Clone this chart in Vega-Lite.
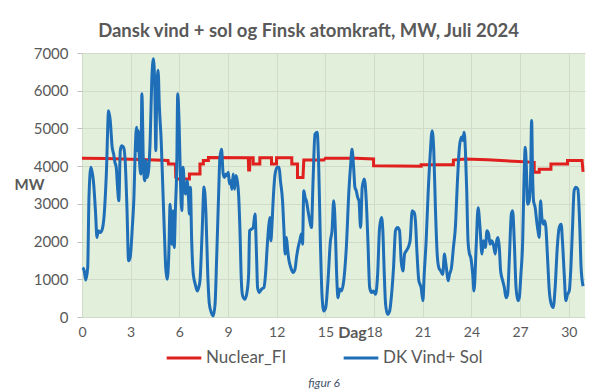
{
  "$schema": "https://vega.github.io/schema/vega-lite/v6.json",
  "autosize": "none",
  "width": 503,
  "height": 264,
  "padding": {"left": 82, "top": 53, "right": 30, "bottom": 74},
  "background": "white",
  "config": {"view": {"fill": "#E2EFDA", "stroke": null}, "font": "Lato"},
  "title": {"text": "Dansk vind + sol og Finsk atomkraft, MW, Juli 2024", "fontSize": 18.5, "fontWeight": "bold", "color": "#595959", "anchor": "middle", "frame": "group", "dx": -25, "offset": 6},
  "datasets": {
    "nuclear": [
      {"dag":0,"mw":4210},{"dag":1.5,"mw":4200},{"dag":3.0,"mw":4180},{"dag":4.5,"mw":4160},{"dag":5.3,"mw":4150},{"dag":5.33,"mw":4060},{"dag":5.76,"mw":4060},{"dag":5.78,"mw":3700},{"dag":5.85,"mw":3660},{"dag":6.62,"mw":3660},{"dag":6.62,"mw":3790},{"dag":7.27,"mw":3790},{"dag":7.27,"mw":4060},{"dag":7.48,"mw":4060},{"dag":7.48,"mw":4150},{"dag":7.79,"mw":4150},{"dag":7.79,"mw":4230},{"dag":10.25,"mw":4220},{"dag":10.27,"mw":3900},{"dag":10.33,"mw":3900},{"dag":10.35,"mw":4220},{"dag":10.55,"mw":4220},{"dag":10.55,"mw":4060},{"dag":10.96,"mw":4060},{"dag":10.96,"mw":4220},{"dag":11.68,"mw":4220},{"dag":11.68,"mw":4060},{"dag":11.99,"mw":4060},{"dag":11.99,"mw":4220},{"dag":12.93,"mw":4220},{"dag":12.93,"mw":4060},{"dag":13.28,"mw":4060},{"dag":13.28,"mw":3700},{"dag":13.62,"mw":3700},{"dag":13.67,"mw":4160},{"dag":14.9,"mw":4160},{"dag":15.0,"mw":4210},{"dag":16.9,"mw":4210},{"dag":17.97,"mw":4190},{"dag":17.97,"mw":4010},{"dag":20.9,"mw":4000},{"dag":20.9,"mw":4040},{"dag":22.89,"mw":4040},{"dag":22.89,"mw":4160},{"dag":23.6,"mw":4190},{"dag":25.0,"mw":4170},{"dag":26.6,"mw":4130},{"dag":27.87,"mw":4100},{"dag":27.87,"mw":3840},{"dag":28.18,"mw":3840},{"dag":28.18,"mw":3920},{"dag":28.9,"mw":3920},{"dag":28.9,"mw":4060},{"dag":29.92,"mw":4060},{"dag":29.92,"mw":4150},{"dag":30.82,"mw":4150},{"dag":30.88,"mw":3850}
    ],
    "vind": [
      {"dag":0.04,"mw":1310},{"dag":0.14,"mw":1220},{"dag":0.23,"mw":980},{"dag":0.35,"mw":1300},{"dag":0.43,"mw":3170},{"dag":0.55,"mw":3970},{"dag":0.72,"mw":3520},{"dag":0.84,"mw":2730},{"dag":0.92,"mw":2110},{"dag":1.0,"mw":2290},{"dag":1.13,"mw":2240},{"dag":1.25,"mw":2330},{"dag":1.37,"mw":2730},{"dag":1.5,"mw":3790},{"dag":1.64,"mw":5470},{"dag":1.74,"mw":5210},{"dag":1.86,"mw":4500},{"dag":1.95,"mw":4320},{"dag":2.03,"mw":4100},{"dag":2.11,"mw":3970},{"dag":2.19,"mw":3440},{"dag":2.27,"mw":3080},{"dag":2.36,"mw":4410},{"dag":2.44,"mw":4540},{"dag":2.56,"mw":4500},{"dag":2.66,"mw":4150},{"dag":2.77,"mw":2900},{"dag":2.87,"mw":1490},{"dag":2.97,"mw":1580},{"dag":3.1,"mw":2370},{"dag":3.2,"mw":3170},{"dag":3.28,"mw":4410},{"dag":3.36,"mw":5030},{"dag":3.42,"mw":4410},{"dag":3.48,"mw":4940},{"dag":3.54,"mw":4150},{"dag":3.63,"mw":3790},{"dag":3.69,"mw":5920},{"dag":3.79,"mw":3970},{"dag":3.87,"mw":3610},{"dag":3.93,"mw":4150},{"dag":4.02,"mw":3700},{"dag":4.12,"mw":3970},{"dag":4.2,"mw":4680},{"dag":4.3,"mw":6270},{"dag":4.4,"mw":6850},{"dag":4.49,"mw":6000},{"dag":4.55,"mw":4410},{"dag":4.61,"mw":6000},{"dag":4.69,"mw":6540},{"dag":4.77,"mw":5560},{"dag":4.88,"mw":4680},{"dag":4.98,"mw":3440},{"dag":5.08,"mw":2200},{"dag":5.16,"mw":1310},{"dag":5.25,"mw":1000},{"dag":5.35,"mw":1670},{"dag":5.43,"mw":2990},{"dag":5.51,"mw":2020},{"dag":5.55,"mw":1930},{"dag":5.61,"mw":2820},{"dag":5.68,"mw":1840},{"dag":5.76,"mw":2900},{"dag":5.84,"mw":3970},{"dag":5.9,"mw":5920},{"dag":5.98,"mw":5210},{"dag":6.07,"mw":3610},{"dag":6.15,"mw":2820},{"dag":6.23,"mw":3970},{"dag":6.31,"mw":3440},{"dag":6.39,"mw":3260},{"dag":6.48,"mw":3610},{"dag":6.56,"mw":3170},{"dag":6.62,"mw":2730},{"dag":6.68,"mw":3440},{"dag":6.76,"mw":2020},{"dag":6.86,"mw":1130},{"dag":6.98,"mw":870},{"dag":7.1,"mw":690},{"dag":7.19,"mw":780},{"dag":7.27,"mw":960},{"dag":7.4,"mw":2200},{"dag":7.52,"mw":3450},{"dag":7.64,"mw":2730},{"dag":7.75,"mw":1130},{"dag":7.85,"mw":340},{"dag":7.97,"mw":120},{"dag":8.09,"mw":30},{"dag":8.2,"mw":340},{"dag":8.3,"mw":1580},{"dag":8.42,"mw":3260},{"dag":8.5,"mw":4230},{"dag":8.6,"mw":4450},{"dag":8.7,"mw":3790},{"dag":8.78,"mw":3700},{"dag":8.87,"mw":3790},{"dag":8.96,"mw":3750},{"dag":9.02,"mw":3840},{"dag":9.08,"mw":3530},{"dag":9.16,"mw":3610},{"dag":9.24,"mw":3390},{"dag":9.32,"mw":3790},{"dag":9.4,"mw":3390},{"dag":9.49,"mw":3750},{"dag":9.57,"mw":3610},{"dag":9.65,"mw":3260},{"dag":9.73,"mw":2370},{"dag":9.82,"mw":960},{"dag":9.9,"mw":560},{"dag":10.04,"mw":470},{"dag":10.18,"mw":690},{"dag":10.27,"mw":1130},{"dag":10.33,"mw":2290},{"dag":10.45,"mw":2330},{"dag":10.55,"mw":2370},{"dag":10.66,"mw":2730},{"dag":10.76,"mw":1580},{"dag":10.82,"mw":780},{"dag":10.92,"mw":650},{"dag":11.07,"mw":740},{"dag":11.21,"mw":780},{"dag":11.31,"mw":1130},{"dag":11.41,"mw":1840},{"dag":11.5,"mw":2370},{"dag":11.58,"mw":2640},{"dag":11.64,"mw":2020},{"dag":11.7,"mw":2370},{"dag":11.78,"mw":3080},{"dag":11.9,"mw":3790},{"dag":12.03,"mw":3970},{"dag":12.15,"mw":3970},{"dag":12.23,"mw":3610},{"dag":12.36,"mw":3080},{"dag":12.44,"mw":2370},{"dag":12.52,"mw":1670},{"dag":12.6,"mw":2110},{"dag":12.68,"mw":1750},{"dag":12.76,"mw":1490},{"dag":12.87,"mw":1310},{"dag":13.01,"mw":1180},{"dag":13.13,"mw":1270},{"dag":13.22,"mw":1580},{"dag":13.32,"mw":1840},{"dag":13.42,"mw":2020},{"dag":13.52,"mw":2200},{"dag":13.59,"mw":1930},{"dag":13.67,"mw":3350},{"dag":13.75,"mw":3170},{"dag":13.83,"mw":3080},{"dag":13.93,"mw":2820},{"dag":14.04,"mw":2550},{"dag":14.14,"mw":2370},{"dag":14.24,"mw":3610},{"dag":14.36,"mw":4850},{"dag":14.49,"mw":4900},{"dag":14.59,"mw":3970},{"dag":14.69,"mw":2020},{"dag":14.79,"mw":600},{"dag":14.9,"mw":160},{"dag":15.02,"mw":250},{"dag":15.16,"mw":960},{"dag":15.31,"mw":2020},{"dag":15.41,"mw":2290},{"dag":15.51,"mw":3080},{"dag":15.61,"mw":2370},{"dag":15.68,"mw":1310},{"dag":15.78,"mw":510},{"dag":15.88,"mw":740},{"dag":15.98,"mw":690},{"dag":16.13,"mw":960},{"dag":16.29,"mw":1840},{"dag":16.45,"mw":3350},{"dag":16.56,"mw":4060},{"dag":16.64,"mw":4450},{"dag":16.74,"mw":3970},{"dag":16.82,"mw":3440},{"dag":16.9,"mw":3350},{"dag":16.99,"mw":3170},{"dag":17.07,"mw":3080},{"dag":17.17,"mw":2370},{"dag":17.27,"mw":3440},{"dag":17.4,"mw":3660},{"dag":17.52,"mw":3080},{"dag":17.62,"mw":2020},{"dag":17.73,"mw":780},{"dag":17.85,"mw":650},{"dag":17.97,"mw":690},{"dag":18.09,"mw":600},{"dag":18.22,"mw":1130},{"dag":18.34,"mw":2370},{"dag":18.46,"mw":2640},{"dag":18.54,"mw":2290},{"dag":18.63,"mw":1130},{"dag":18.71,"mw":340},{"dag":18.83,"mw":70},{"dag":18.96,"mw":160},{"dag":19.08,"mw":600},{"dag":19.2,"mw":1310},{"dag":19.32,"mw":2290},{"dag":19.45,"mw":2370},{"dag":19.57,"mw":2290},{"dag":19.67,"mw":1490},{"dag":19.78,"mw":1220},{"dag":19.88,"mw":1670},{"dag":19.98,"mw":1750},{"dag":20.1,"mw":1840},{"dag":20.22,"mw":2020},{"dag":20.35,"mw":2820},{"dag":20.47,"mw":2770},{"dag":20.55,"mw":2550},{"dag":20.64,"mw":1750},{"dag":20.76,"mw":960},{"dag":20.9,"mw":780},{"dag":21.01,"mw":430},{"dag":21.09,"mw":1130},{"dag":21.21,"mw":2020},{"dag":21.33,"mw":3260},{"dag":21.46,"mw":4320},{"dag":21.58,"mw":4940},{"dag":21.68,"mw":4410},{"dag":21.78,"mw":2900},{"dag":21.89,"mw":1670},{"dag":21.99,"mw":1310},{"dag":22.11,"mw":1220},{"dag":22.23,"mw":1130},{"dag":22.34,"mw":1670},{"dag":22.4,"mw":1490},{"dag":22.48,"mw":1220},{"dag":22.56,"mw":960},{"dag":22.65,"mw":1130},{"dag":22.77,"mw":1310},{"dag":22.89,"mw":1840},{"dag":23.01,"mw":2370},{"dag":23.14,"mw":3610},{"dag":23.26,"mw":4500},{"dag":23.38,"mw":4770},{"dag":23.47,"mw":4680},{"dag":23.55,"mw":4900},{"dag":23.63,"mw":4410},{"dag":23.71,"mw":3350},{"dag":23.79,"mw":2020},{"dag":23.88,"mw":1670},{"dag":23.96,"mw":1580},{"dag":24.08,"mw":1130},{"dag":24.16,"mw":690},{"dag":24.29,"mw":1840},{"dag":24.41,"mw":2900},{"dag":24.53,"mw":2370},{"dag":24.65,"mw":1670},{"dag":24.74,"mw":2020},{"dag":24.86,"mw":1840},{"dag":24.96,"mw":2290},{"dag":25.06,"mw":2200},{"dag":25.15,"mw":1930},{"dag":25.23,"mw":2020},{"dag":25.35,"mw":1930},{"dag":25.47,"mw":1670},{"dag":25.56,"mw":2020},{"dag":25.64,"mw":2110},{"dag":25.72,"mw":1840},{"dag":25.8,"mw":1220},{"dag":25.93,"mw":960},{"dag":26.03,"mw":780},{"dag":26.13,"mw":510},{"dag":26.23,"mw":600},{"dag":26.34,"mw":1580},{"dag":26.46,"mw":2730},{"dag":26.54,"mw":2820},{"dag":26.64,"mw":2020},{"dag":26.75,"mw":780},{"dag":26.87,"mw":430},{"dag":26.95,"mw":510},{"dag":27.05,"mw":1130},{"dag":27.16,"mw":2020},{"dag":27.24,"mw":3610},{"dag":27.32,"mw":4500},{"dag":27.4,"mw":3790},{"dag":27.46,"mw":2990},{"dag":27.56,"mw":3080},{"dag":27.65,"mw":3790},{"dag":27.71,"mw":5210},{"dag":27.77,"mw":3790},{"dag":27.83,"mw":3080},{"dag":27.93,"mw":2900},{"dag":28.02,"mw":2550},{"dag":28.1,"mw":2290},{"dag":28.18,"mw":2110},{"dag":28.26,"mw":3080},{"dag":28.34,"mw":2640},{"dag":28.43,"mw":2460},{"dag":28.51,"mw":2550},{"dag":28.59,"mw":2370},{"dag":28.69,"mw":1580},{"dag":28.8,"mw":690},{"dag":28.92,"mw":340},{"dag":29.04,"mw":250},{"dag":29.16,"mw":780},{"dag":29.29,"mw":1840},{"dag":29.41,"mw":2370},{"dag":29.53,"mw":2460},{"dag":29.61,"mw":2020},{"dag":29.72,"mw":1130},{"dag":29.82,"mw":430},{"dag":29.92,"mw":600},{"dag":30.03,"mw":690},{"dag":30.13,"mw":1310},{"dag":30.23,"mw":2370},{"dag":30.33,"mw":3350},{"dag":30.44,"mw":3440},{"dag":30.56,"mw":3390},{"dag":30.68,"mw":2370},{"dag":30.76,"mw":1310},{"dag":30.88,"mw":820}
    ]
  },
  "encoding": {
    "x": {
      "field": "dag", "type": "quantitative",
      "scale": {"domain": [0, 31], "nice": false, "zero": false},
      "axis": {
        "values": [0, 3, 6, 9, 12, 15, 18, 21, 24, 27, 30],
        "grid": true, "gridColor": "#D0DCC9", "domain": false, "ticks": false,
        "labelFlush": false, "labelFontSize": 14, "labelColor": "#595959", "labelPadding": 8,
        "title": "Dag", "titleFontSize": 16, "titleFontWeight": "bold", "titleColor": "#595959",
        "titleX": 270, "titleY": 20, "titleBaseline": "alphabetic", "titleAlign": "center"
      }
    },
    "y": {
      "field": "mw", "type": "quantitative",
      "scale": {"domain": [0, 7000], "nice": false},
      "axis": {
        "values": [0, 1000, 2000, 3000, 4000, 5000, 6000, 7000], "format": "d",
        "grid": true, "gridColor": "#D0DCC9", "domain": false,
        "ticks": true, "tickSize": 5, "tickColor": "#BFBFBF",
        "labelFontSize": 15, "labelColor": "#595959", "labelPadding": 9,
        "title": "MW", "titleAngle": 0, "titleFontSize": 15, "titleFontWeight": "bold", "titleColor": "#595959",
        "titleX": -53, "titleY": 131, "titleAlign": "center", "titleBaseline": "middle"
      }
    },
    "color": {
      "datum": "x", "type": "nominal",
      "scale": {"domain": ["Nuclear_FI", "DK Vind+ Sol"], "range": ["#E0201E", "#1F6EB8"]},
      "legend": {
        "orient": "none", "legendX": 83, "legendY": 286, "direction": "horizontal",
        "symbolType": "stroke", "symbolStrokeWidth": 3, "symbolSize": 1200,
        "labelFontSize": 17, "labelColor": "#595959", "labelOffset": 3, "columnPadding": 50,
        "title": "figur 6", "titleOrient": "bottom", "titleAnchor": "middle", "titleFontStyle": "italic",
        "titleFontWeight": "normal", "titleColor": "#44546A", "titleFontSize": 12, "titlePadding": 12
      }
    }
  },
  "layer": [
    {
      "data": {"name": "nuclear"},
      "mark": {"type": "line", "strokeWidth": 3, "interpolate": "linear"},
      "encoding": {"color": {"datum": "Nuclear_FI", "type": "nominal"}}
    },
    {
      "data": {"name": "vind"},
      "mark": {"type": "line", "strokeWidth": 3, "interpolate": "monotone"},
      "encoding": {"color": {"datum": "DK Vind+ Sol", "type": "nominal"}}
    }
  ]
}
